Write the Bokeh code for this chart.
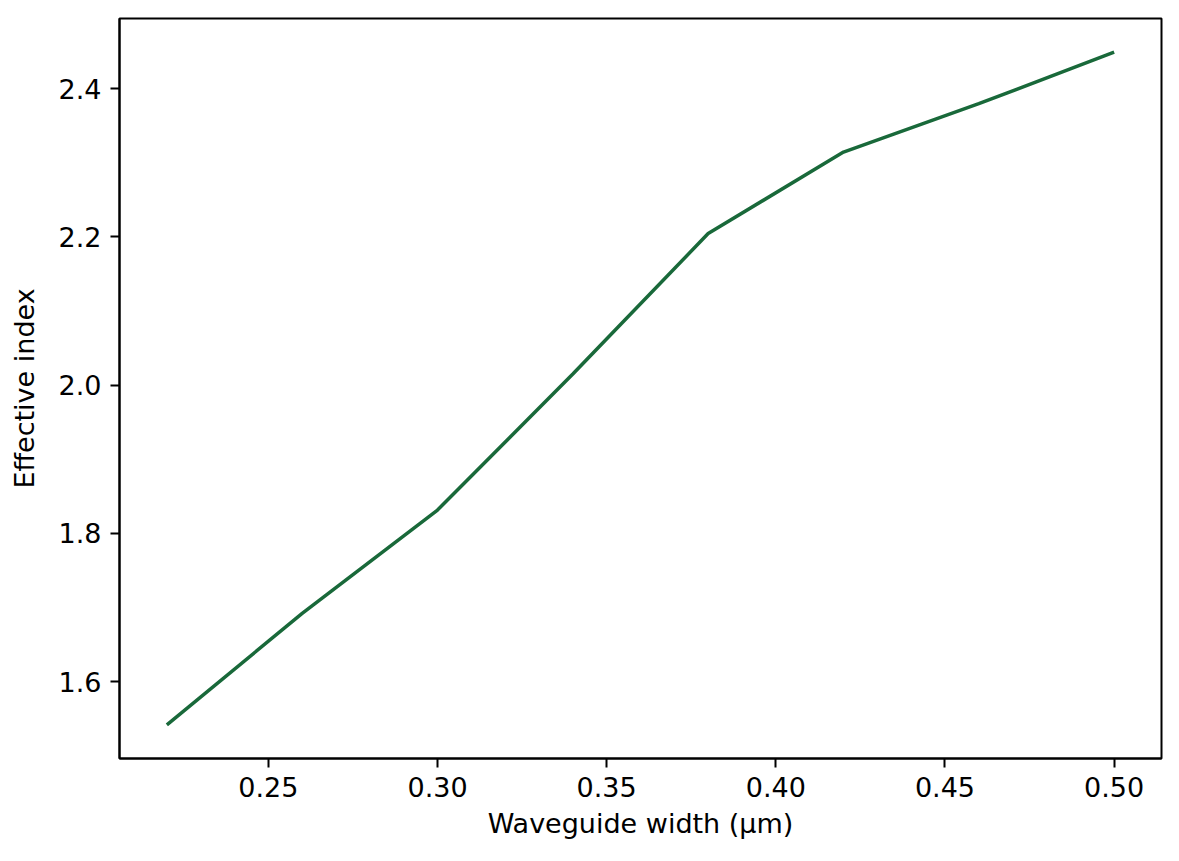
from bokeh.plotting import figure
from bokeh.models import Range1d, FixedTicker
from bokeh.embed import file_html
from bokeh.resources import INLINE

# Data
widths = [0.22, 0.26, 0.30, 0.34, 0.38, 0.42, 0.46, 0.50]
neff = [1.5416, 1.692, 1.8315, 2.015, 2.2046, 2.3146, 2.3798, 2.4494]
x_ticks = [0.25, 0.30, 0.35, 0.40, 0.45, 0.50]
x_tick_labels = ["0.25", "0.30", "0.35", "0.40", "0.45", "0.50"]
y_ticks = [1.6, 1.8, 2.0, 2.2, 2.4]
y_tick_labels = ["1.6", "1.8", "2.0", "2.2", "2.4"]

xmin, xmax = min(widths), max(widths)
ymin, ymax = min(neff), max(neff)
xm = 0.05 * (xmax - xmin)
ym = 0.05 * (ymax - ymin)

FONT = "DejaVu Sans"
FS = "27px"

p = figure(width=1179, height=861, output_backend="svg", toolbar_location=None,
           x_range=Range1d(xmin - xm, xmax + xm), y_range=Range1d(ymin - ym, ymax + ym),
           min_border_left=119, min_border_right=18, min_border_top=18, min_border_bottom=103)

p.line(widths, neff, line_color="#19693a", line_width=3.5)

p.grid.visible = False
p.outline_line_color = "black"
p.outline_line_width = 2
p.background_fill_color = "white"
p.border_fill_color = "white"

p.xaxis.ticker = FixedTicker(ticks=x_ticks)
p.yaxis.ticker = FixedTicker(ticks=y_ticks)
p.xaxis.major_label_overrides = {t: l for t, l in zip(x_ticks, x_tick_labels)}
p.yaxis.major_label_overrides = {t: l for t, l in zip(y_ticks, y_tick_labels)}

for ax in (p.xaxis, p.yaxis):
    ax.axis_line_width = 2
    ax.axis_line_color = "black"
    ax.major_tick_in = 0
    ax.major_tick_out = 9
    ax.major_tick_line_width = 2
    ax.minor_tick_line_color = None
    ax.major_label_text_font = FONT
    ax.major_label_text_font_size = FS
    ax.major_label_text_color = "black"
    ax.axis_label_text_font = FONT
    ax.axis_label_text_font_size = FS
    ax.axis_label_text_font_style = "normal"
    ax.axis_label_text_color = "black"

p.xaxis.axis_label = "Waveguide width (μm)"
p.yaxis.axis_label = "Effective index"
p.xaxis.major_label_standoff = 9
p.yaxis.major_label_standoff = 9
p.xaxis.axis_label_standoff = 8
p.yaxis.axis_label_standoff = 16

open("out.html", "w").write(file_html(p, INLINE))
